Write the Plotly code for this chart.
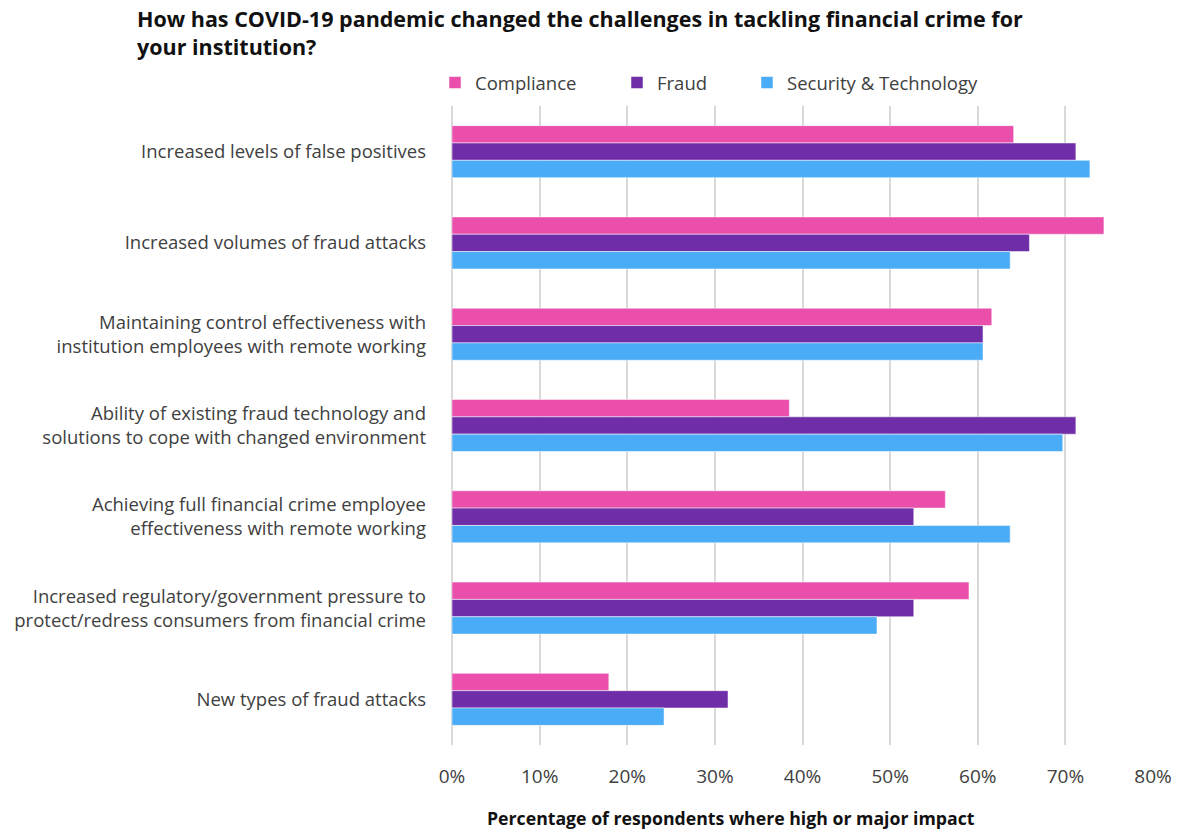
import plotly.graph_objects as go

categories = [
    "Increased levels of false positives",
    "Increased volumes of fraud attacks",
    "Maintaining control effectiveness with<br>institution employees with remote working",
    "Ability of existing fraud technology and<br>solutions to cope with changed environment",
    "Achieving full financial crime employee<br>effectiveness with remote working",
    "Increased regulatory/government pressure to<br>protect/redress consumers from financial crime",
    "New types of fraud attacks",
]
compliance = [64.1, 74.4, 61.6, 38.5, 56.3, 59.0, 17.9]
fraud = [71.2, 65.9, 60.6, 71.2, 52.7, 52.7, 31.5]
security_tech = [72.8, 63.7, 60.6, 69.7, 63.7, 48.5, 24.2]

series = [
    ("Compliance", compliance, "#EB4FAC", "legend"),
    ("Fraud", fraud, "#6F2DA8", "legend2"),
    ("Security & Technology", security_tech, "#4AABF6", "legend3"),
]

FONT = "Open Sans"
W, H = 1180, 832
ML, MR, MT, MB = 452, 27, 106, 87
PW, PH = W - ML - MR, H - MT - MB

fig = go.Figure()
for name, vals, color, leg in series:
    fig.add_trace(go.Bar(
        name=name, y=categories, x=vals, orientation="h",
        marker=dict(color=color, line=dict(color="rgba(255,255,255,0.5)", width=1)),
        legend=leg, showlegend=True,
    ))

def legend_at(px):
    # each legend entry is placed independently, in plot-area fractions
    return dict(
        x=(px - ML) / PW, xanchor="left",
        y=1 + (MT - 64) / PH, yanchor="top",
        orientation="h", bgcolor="rgba(0,0,0,0)",
        font=dict(family=FONT, size=18.5, color="#404040"),
        itemwidth=30,
    )

fig.update_layout(
    width=W, height=H,
    margin=dict(l=ML, r=MR, t=MT, b=MB),
    paper_bgcolor="white", plot_bgcolor="white",
    showlegend=True,
    barmode="group", bargap=0.43, bargroupgap=0,
    title=dict(
        text="How has COVID-19 pandemic changed the challenges in tackling financial crime for<br>your institution?",
        x=137 / W, xref="container", xanchor="left",
        y=1 - 27 / H, yref="container", yanchor="top",
        font=dict(family=FONT, size=21.5, color="#111111", weight="bold"),
    ),
    legend=legend_at(435),
    legend2=legend_at(617),
    legend3=legend_at(747),
    xaxis=dict(
        range=[0, 80], dtick=10, ticksuffix="%",
        showgrid=True, gridcolor="#D9D9D9", gridwidth=2,
        zeroline=True, zerolinecolor="#D9D9D9", zerolinewidth=2,
        showline=False, ticks="", ticklen=0,
        ticklabelstandoff=18, automargin=False,
        tickfont=dict(family=FONT, size=19, color="#404040"),
        fixedrange=True,
    ),
    yaxis=dict(
        autorange="reversed", showgrid=False, ticks="", ticklen=0,
        ticklabelstandoff=25, automargin=False,
        tickfont=dict(family=FONT, size=18.5, color="#404040"),
        fixedrange=True,
    ),
    annotations=[dict(
        text="Percentage of respondents where high or major impact",
        x=(731 - ML) / PW, xref="x domain", xanchor="center",
        y=-73 / PH, yref="y domain", yanchor="middle",
        showarrow=False,
        font=dict(family=FONT, size=17.7, color="#111111", weight="bold"),
    )],
)

fig.write_html("out.html")
